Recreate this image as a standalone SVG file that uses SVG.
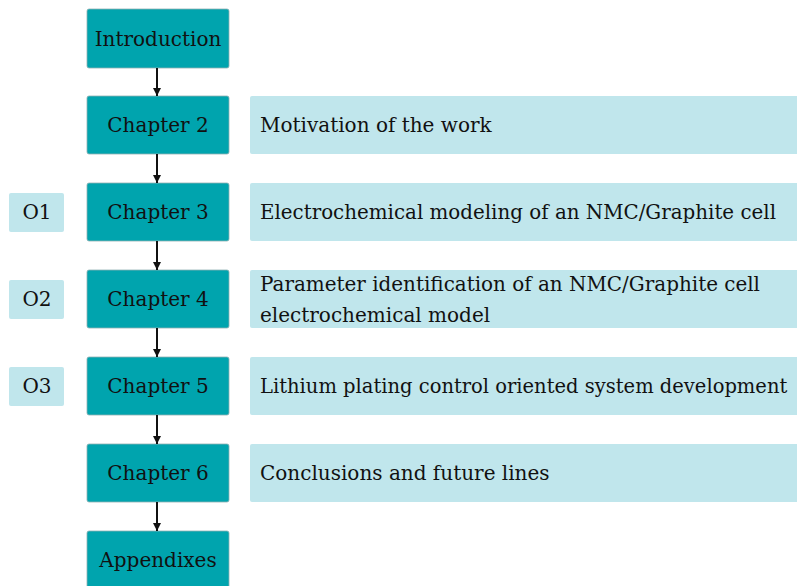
<svg xmlns="http://www.w3.org/2000/svg" width="797" height="586" viewBox="0 0 797 586">
<defs>
<style>
.ch{fill:#00A4AE;stroke:#8fb0b3;stroke-width:0.8}
.lt{fill:#C0E6EC}
text{font-family:"DejaVu Serif","Liberation Serif",serif;font-size:20px;fill:#111}
.c{text-anchor:middle}
.s{font-size:19.5px}
.con line{stroke:#111;stroke-width:2}
</style>
<marker id="ah" viewBox="0 0 10 10" refX="10" refY="5" markerWidth="10" markerHeight="8" orient="auto" markerUnits="userSpaceOnUse"><path d="M0,0 L10,5 L0,10 z" fill="#111"/></marker>
</defs>
<rect width="797" height="586" fill="#fff"/>
<g id="introduction"><rect class="ch" x="87" y="9" width="142" height="59" rx="2"/><text class="c" x="158" y="46">Introduction</text></g>
<g id="chapter2"><rect class="ch" x="87" y="96" width="142" height="58" rx="2"/><text class="c" x="158" y="132">Chapter 2</text></g>
<g id="chapter3"><rect class="ch" x="87" y="183" width="142" height="58" rx="2"/><text class="c" x="158" y="219">Chapter 3</text></g>
<g id="chapter4"><rect class="ch" x="87" y="270" width="142" height="58" rx="2"/><text class="c" x="158" y="306">Chapter 4</text></g>
<g id="chapter5"><rect class="ch" x="87" y="357" width="142" height="58" rx="2"/><text class="c" x="158" y="393">Chapter 5</text></g>
<g id="chapter6"><rect class="ch" x="87" y="444" width="142" height="58" rx="2"/><text class="c" x="158" y="480">Chapter 6</text></g>
<g id="appendixes"><rect class="ch" x="87" y="531" width="142" height="60" rx="2"/><text class="c" x="158" y="567">Appendixes</text></g>
<g id="desc2"><rect class="lt" x="250" y="96" width="550" height="58" rx="2"/><text x="260" y="132">Motivation of the work</text></g>
<g id="desc3"><rect class="lt" x="250" y="183" width="550" height="58" rx="2"/><text x="260" y="219" textLength="516" lengthAdjust="spacingAndGlyphs">Electrochemical modeling of an NMC/Graphite cell</text></g>
<g id="desc4"><rect class="lt" x="250" y="270" width="550" height="58" rx="2"/><text x="260" y="291" textLength="500" lengthAdjust="spacingAndGlyphs">Parameter identification of an NMC/Graphite cell</text><text x="260" y="322">electrochemical model</text></g>
<g id="desc5"><rect class="lt" x="250" y="357" width="550" height="58" rx="2"/><text class="s" x="260" y="393">Lithium plating control oriented system development</text></g>
<g id="desc6"><rect class="lt" x="250" y="444" width="550" height="58" rx="2"/><text x="260" y="480">Conclusions and future lines</text></g>
<g id="o1"><rect class="lt" x="9" y="193" width="55" height="39" rx="2"/><text class="c" x="37" y="219">O1</text></g>
<g id="o2"><rect class="lt" x="9" y="280" width="55" height="39" rx="2"/><text class="c" x="37" y="306">O2</text></g>
<g id="o3"><rect class="lt" x="9" y="367" width="55" height="39" rx="2"/><text class="c" x="37" y="393">O3</text></g>
<g id="connectors" class="con">
<line x1="157" y1="68" x2="157" y2="96" marker-end="url(#ah)"/>
<line x1="157" y1="154" x2="157" y2="183" marker-end="url(#ah)"/>
<line x1="157" y1="241" x2="157" y2="270" marker-end="url(#ah)"/>
<line x1="157" y1="328" x2="157" y2="357" marker-end="url(#ah)"/>
<line x1="157" y1="415" x2="157" y2="444" marker-end="url(#ah)"/>
<line x1="157" y1="502" x2="157" y2="531" marker-end="url(#ah)"/>
</g>
</svg>
